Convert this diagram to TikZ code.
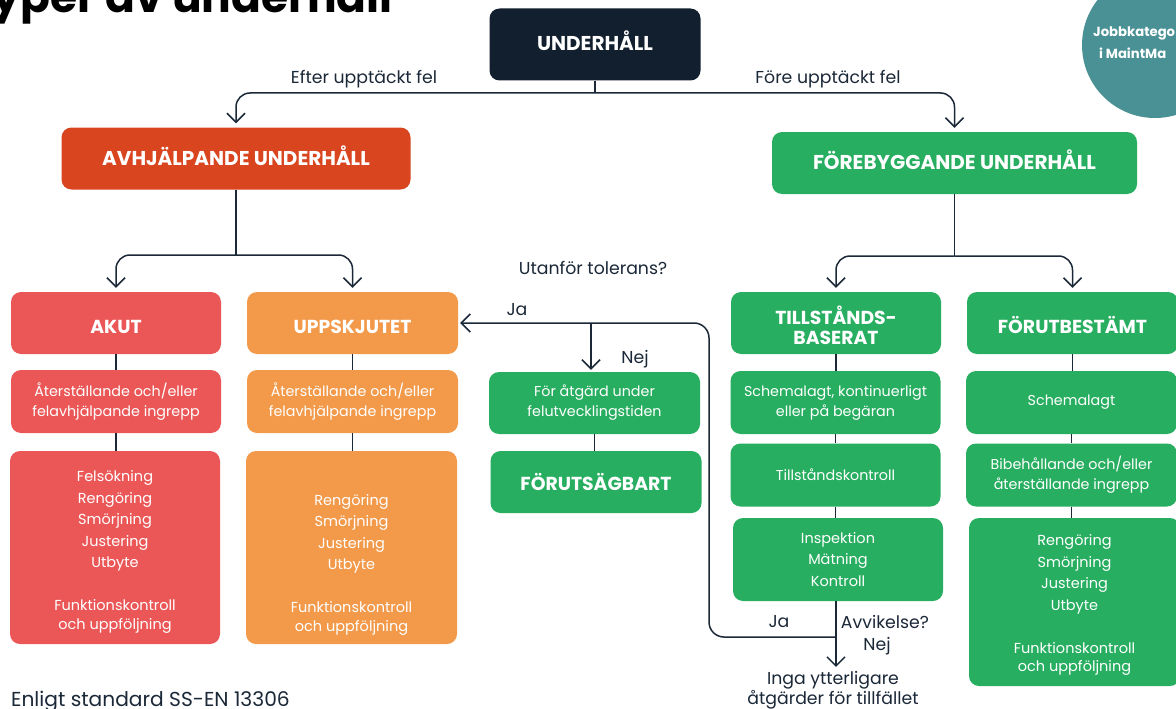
\documentclass[tikz,border=0pt]{standalone}
\usepackage{fontspec}
\setmainfont{Poppins}
\usetikzlibrary{arrows.meta,calc}

\definecolor{navy}{HTML}{121F2E}
\definecolor{linec}{HTML}{1B2838}
\definecolor{avhred}{HTML}{D9451F}
\definecolor{akutred}{HTML}{EB5757}
\definecolor{uppor}{HTML}{F2994A}
\definecolor{grn}{HTML}{27AE60}
\definecolor{teal}{HTML}{4A9195}

\newcommand\topfont{\fontsize{20}{20}\selectfont\bfseries}
\newcommand\hdfont{\fontsize{18.8}{20}\selectfont\bfseries}
\newcommand\bxfont{\fontsize{14.3}{20}\selectfont}
\newcommand\lsfont{\fontsize{14.5}{21.5}\selectfont}
\newcommand\lbfont{\fontsize{17.3}{20}\selectfont}
% invisible struts that nudge a label down (\tall) or up (\deep) inside its box
\newcommand\tall[1]{\rule{0pt}{#1pt}}
\newcommand\deep[1]{\rule[-#1pt]{0pt}{#1pt}}

\begin{document}
\begin{tikzpicture}[x=1pt,y=-1pt,
  box/.style={rounded corners=10pt, inner sep=0pt, text=white, align=center},
  wh/.style n args={2}{minimum width=#1pt, minimum height=#2pt},
  top/.style={box, font=\topfont},
  head/.style={box, font=\hdfont},
  sub/.style={box, font=\bxfont},
  list/.style={box, font=\lsfont},
  lbl/.style={inner sep=0pt, text=linec, font=\lbfont, align=center},
  conn/.style={draw=linec, line width=1.5pt},
  arr/.style={conn, -{Straight Barb[length=9pt,width=18pt,line width=1.5pt]}, shorten >=4pt},
]
\useasboundingbox (0,0) rectangle (1176,709);
\fill[white] (0,0) rectangle (1176,709);

% heading, partly outside the page
\node[anchor=base east, inner sep=0pt, font=\fontsize{44}{50}\selectfont\bfseries] (title) at (393,13) {Typer av underhåll};

% badge in the upper right corner
\fill[teal] (1155,45) circle (73);
\node[anchor=west, inner sep=0pt, text=white, font=\fontsize{13.2}{14}\selectfont\bfseries] (badge1) at (1093,33) {Jobbkatego};
\node[anchor=west, inner sep=0pt, text=white, font=\fontsize{13.2}{14}\selectfont\bfseries] (badge2) at (1099,53) {i MaintMa};

% top level
\node[top, fill=navy, wh={211}{72}] (under) at (595,44.5) {\deep{7}UNDERHÅLL};
\node[top, fill=avhred, wh={349}{62}] (avh) at (236,158.5) {\deep{5.5}AVHJÄLPANDE UNDERHÅLL};
\node[top, fill=grn, wh={365}{62}] (fore) at (954.5,163) {\deep{6}FÖREBYGGANDE UNDERHÅLL};

% corrective branch
\node[head, fill=akutred, wh={210}{62}] (akut) at (116,323) {\tall{21.5}AKUT};
\node[head, fill=uppor, wh={211}{62}] (upp) at (352.5,323) {\tall{21.5}UPPSKJUTET};
\node[sub, fill=akutred, wh={210}{63}] (akut2) at (116,401.5) {Återställande och/eller\\felavhjälpande ingrepp};
\node[sub, fill=uppor, wh={211}{63}] (upp2) at (352.5,401.5) {Återställande och/eller\\felavhjälpande ingrepp};
\node[list, fill=akutred, wh={210}{193}] (akut3) at (115,547.5) {\tall{19.5}Felsökning\\Rengöring\\Smörjning\\Justering\\Utbyte\\[21.5pt]Funktionskontroll\\[-3pt]och uppföljning};
\node[list, fill=uppor, wh={211}{193}] (upp3) at (351.5,547.5) {\tall{24}\\Rengöring\\Smörjning\\Justering\\Utbyte\\[21.5pt]Funktionskontroll\\[-3pt]och uppföljning};

% predictive column
\node[sub, fill=grn, wh={211}{62}] (atg) at (594.5,403) {För åtgärd under\\felutvecklingstiden};
\node[head, fill=grn, wh={211}{62}] (forut) at (596,482) {FÖRUTSÄGBART};

% preventive branch
\node[head, fill=grn, wh={210}{62}] (till) at (836,323) {\tall{24}TILLSTÅNDS-\\BASERAT};
\node[head, fill=grn, wh={211}{62}] (fbest) at (1072.5,323) {\tall{21.5}FÖRUTBESTÄMT};
\node[sub, fill=grn, wh={210}{63}] (t2) at (835.5,402.5) {Schemalagt, kontinuerligt\\eller på begäran};
\node[sub, fill=grn, wh={211}{63}] (f2) at (1071.5,402.5) {Schemalagt};
\node[sub, fill=grn, wh={210}{63}] (t3) at (835.5,475) {Tillståndskontroll};
\node[sub, fill=grn, wh={211}{63}] (f3) at (1071.5,475) {Bibehållande och/eller\\återställande ingrepp};
\node[list, fill=grn, wh={210}{83}] (t4) at (838,559.5) {Inspektion\\Mätning\\Kontroll};
\node[list, fill=grn, wh={211}{168}] (f4) at (1074.5,602) {\tall{17.7}Rengöring\\Smörjning\\Justering\\Utbyte\\[21.5pt]Funktionskontroll\\[-3pt]och uppföljning};

% free-standing texts
\node[lbl] (efter) at (364,79) {Efter upptäckt fel};
\node[lbl] (fore lbl) at (828,79) {Före upptäckt fel};
\node[lbl] (tol) at (593,268) {Utanför tolerans?};
\node[lbl] (ja1) at (517,310) {Ja};
\node[lbl] (nej1) at (635,359) {Nej};
\node[lbl] (ja2) at (779,622) {Ja};
\node[lbl] (avv) at (885,622) {Avvikelse?};
\node[lbl] (nej2) at (877,646) {Nej};
\node[lbl] (inga) at (833,690) {Inga ytterligare\\åtgärder för tillfället};
\node[anchor=base west, inner sep=0pt, text=linec, font=\fontsize{20.2}{20}\selectfont] (std) at (11,706) {Enligt standard SS-EN 13306};

% junction points
\coordinate (s0) at (595,93);
\coordinate (s1) at (236,255);
\coordinate (s2) at (954.5,256);
\coordinate (jv) at (836,637);
\coordinate (loop) at (709,323);
\coordinate (tj) at (591,323);

% connectors
\draw[conn] (under.south) -- (s0);
\draw[arr, rounded corners=14pt] (s0) -| (avh.north);
\draw[arr, rounded corners=14pt] (s0) -| (fore.north);
\draw[conn] (avh.south) -- (s1);
\draw[arr, rounded corners=14pt] (s1) -| (akut.north);
\draw[arr, rounded corners=14pt] (s1) -| (upp.north);
\draw[conn] (fore.south) -- (s2);
\draw[arr, rounded corners=14pt] (s2) -| (till.north);
\draw[arr, rounded corners=14pt] (s2) -| (fbest.north);

\draw[conn] (akut.south) -- (akut.south |- akut2.north);
\draw[conn] (akut2.south) -- (akut2.south |- akut3.north);
\draw[conn] (upp.south) -- (upp.south |- upp2.north);
\draw[conn] (upp2.south) -- (upp2.south |- upp3.north);
\draw[conn] (atg.south) -- (atg.south |- forut.north);
\draw[conn] (till.south) -- (till.south |- t2.north);
\draw[conn] (t2.south) -- (t2.south |- t3.north);
\draw[conn] (t3.south) -- (t3.south |- t4.north);
\draw[conn] (fbest.south) -- (fbest.south |- f2.north);
\draw[conn] (f2.south) -- (f2.south |- f3.north);
\draw[conn] (f3.south) -- (f3.south |- f4.north);

% deviation loop
\draw[conn] (t4.south -| jv) -- (jv);
\draw[arr] (jv) -- (jv |- inga.north);
\draw[arr, rounded corners=15pt, shorten >=2pt] (jv) -| (loop) -- (upp.east);
\draw[arr, shorten >=2pt] (tj) -- (tj |- atg.north);
\end{tikzpicture}
\end{document}
